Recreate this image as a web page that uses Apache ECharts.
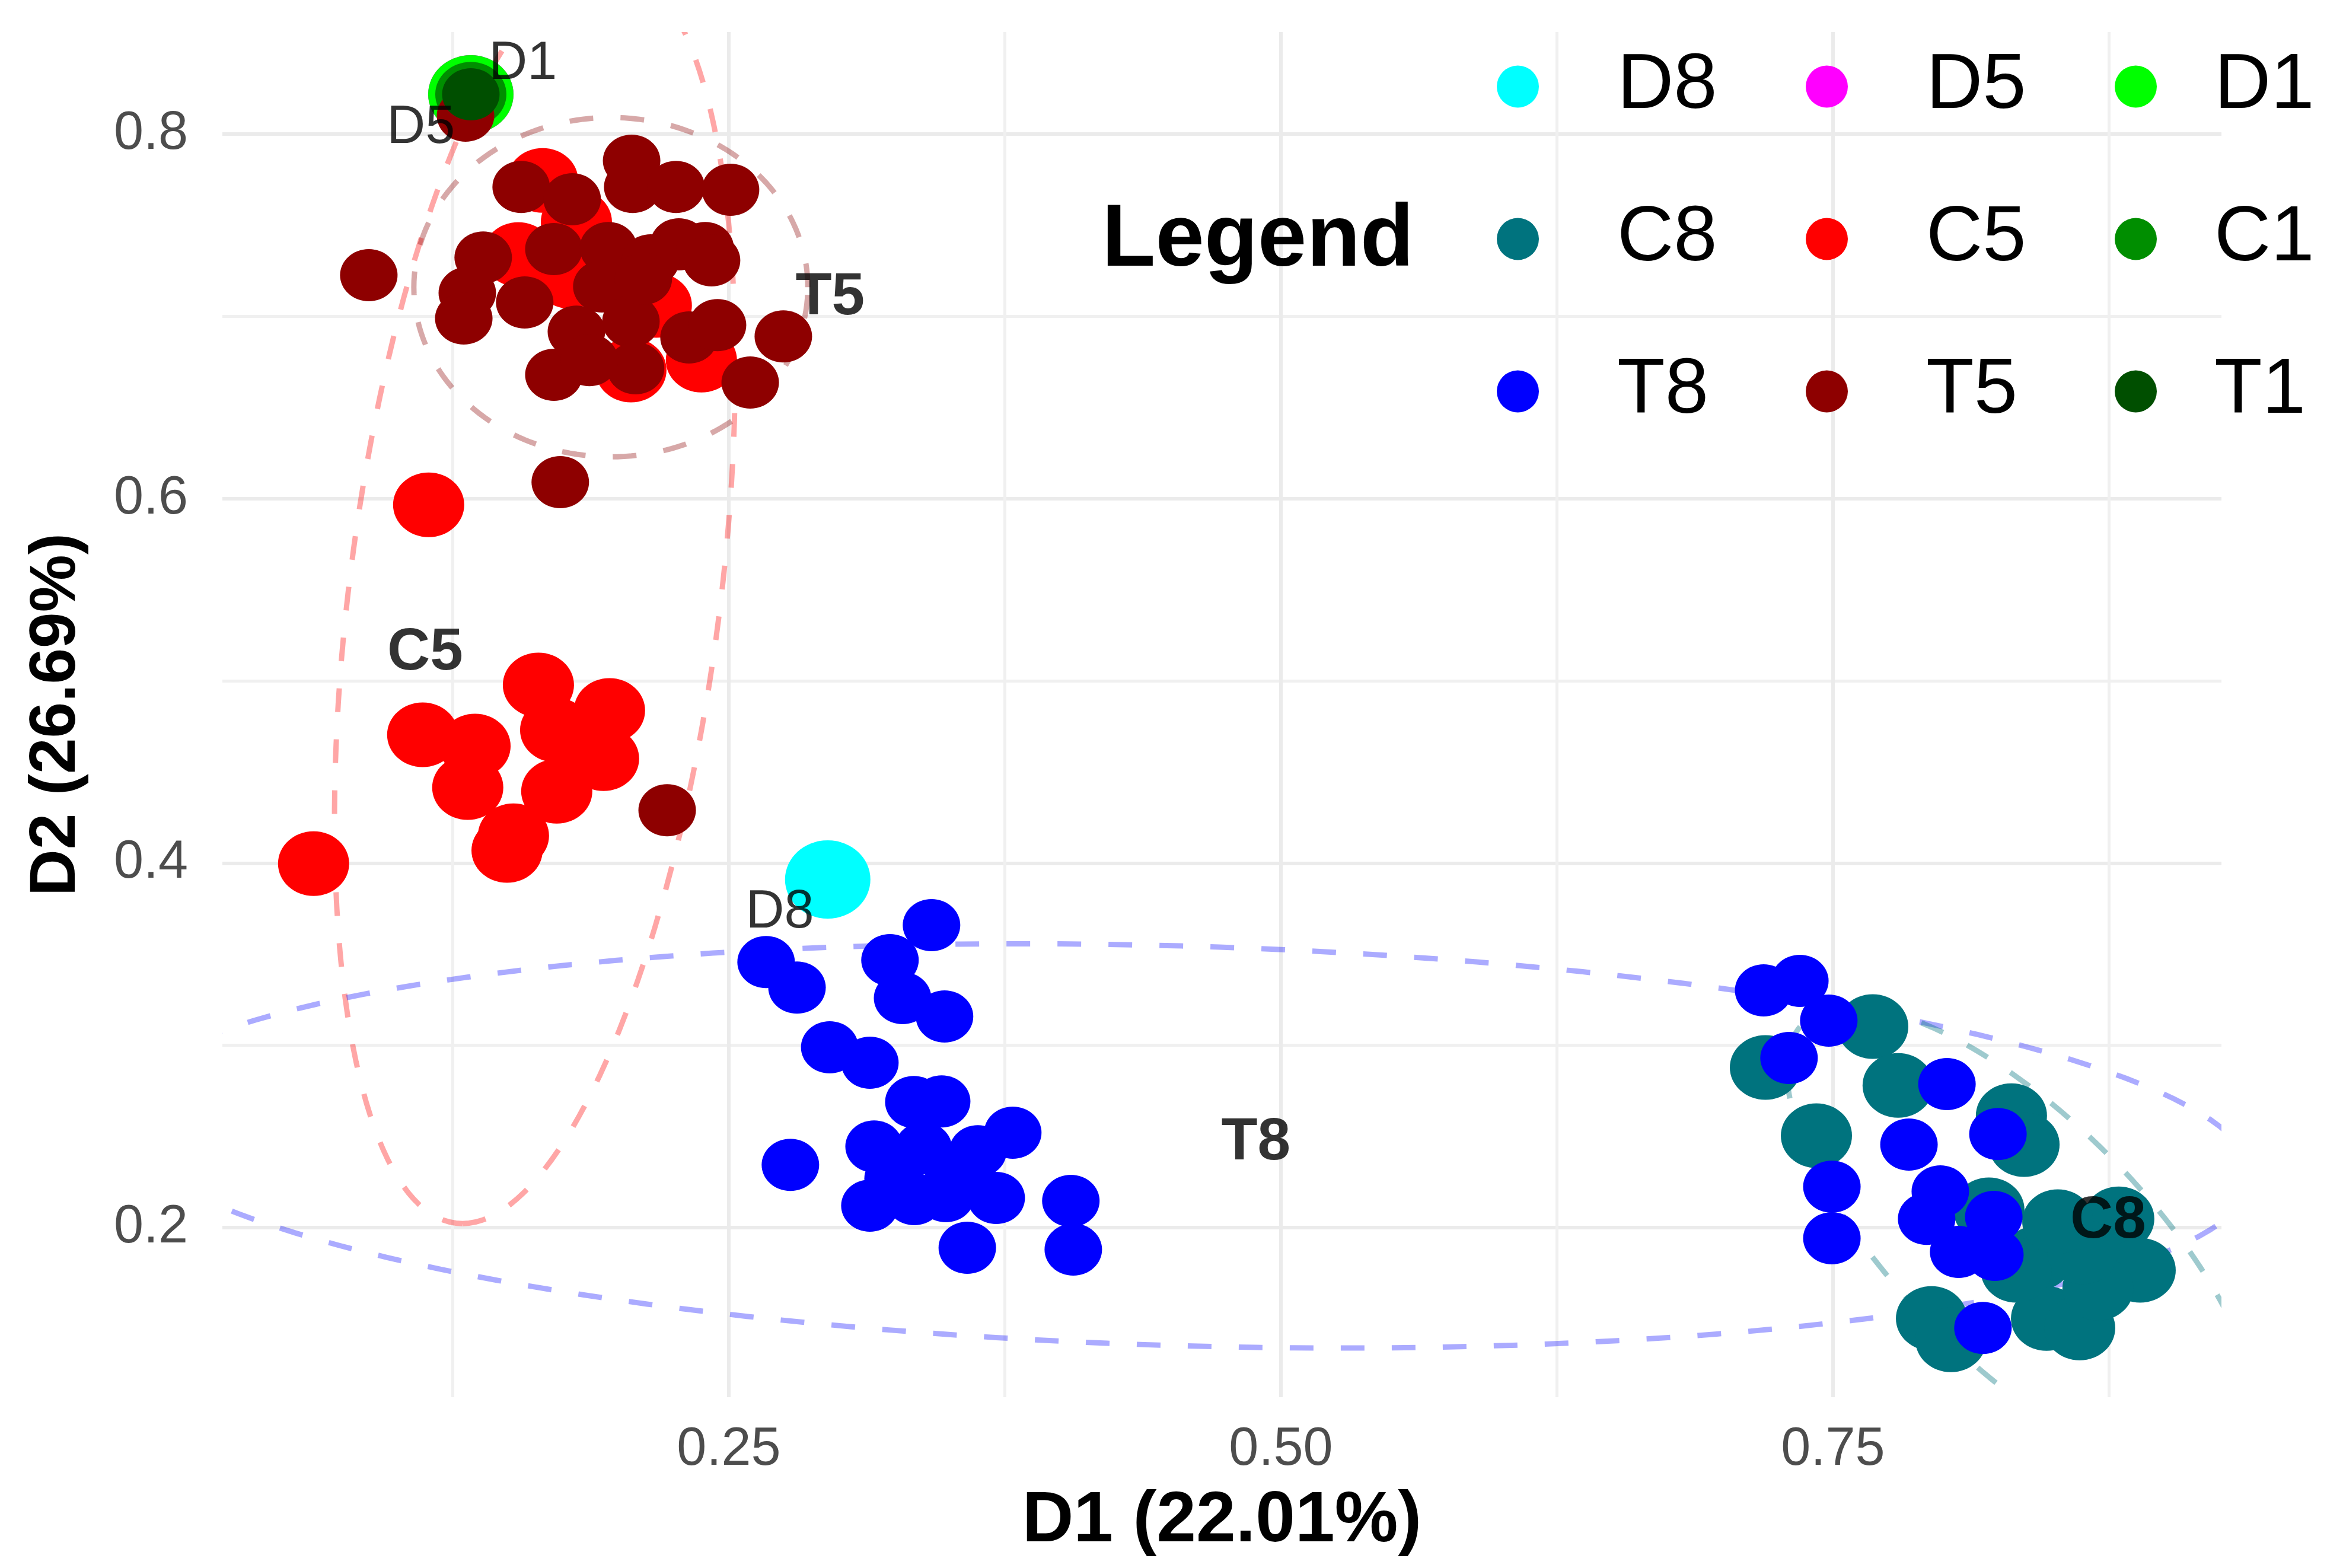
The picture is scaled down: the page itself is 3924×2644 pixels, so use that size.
<!DOCTYPE html>
<html><head><meta charset="utf-8">
<script src="https://cdn.jsdelivr.net/npm/echarts@6/dist/echarts.min.js"></script>
<style>html,body{margin:0;padding:0;background:#fff}#chart{width:3924px;height:2644px}</style>
</head><body><div id="chart"></div>
<script>
// ---------------- data ----------------
const groupNames = ['D8', 'D5', 'D1', 'C8', 'C5', 'C1', 'T8', 'T5', 'T1'];
const legendColumns = [['D8', 'C8', 'T8'], ['D5', 'C5', 'T5'], ['D1', 'C1', 'T1']];

const D8 = [[0.2948, 0.3910]];
const D5 = [[0.1332, 0.8218]];
const D1 = [[0.1332, 0.8218]];
const C1 = [[0.1332, 0.8218]];
const T1 = [[0.1332, 0.8218]];

const C8 = [
  [0.7194, 0.2878], [0.7680, 0.3103], [0.7795, 0.2780], [0.7425, 0.2504], [0.8308, 0.2614],
  [0.8365, 0.2455], [0.8206, 0.2097], [0.8426, 0.1833], [0.8794, 0.2048], [0.8891, 0.1765],
  [0.8467, 0.1501], [0.8617, 0.1449], [0.8700, 0.1667], [0.7946, 0.1501], [0.8034, 0.1384],
  [0.8330, 0.1765], [0.8631, 0.1866], [0.8518, 0.2032]
];
const C5 = [
  [0.1657, 0.7746], [0.1810, 0.7518], [0.1547, 0.7339], [0.1780, 0.7219], [0.2172, 0.7060],
  [0.2057, 0.6705], [0.2376, 0.6760], [0.1141, 0.5966], [0.0620, 0.3997], [0.1114, 0.4704],
  [0.1351, 0.4642], [0.1318, 0.4414], [0.1638, 0.4977], [0.1525, 0.4150], [0.1496, 0.4069],
  [0.1716, 0.4730], [0.1960, 0.4837], [0.1933, 0.4573], [0.1721, 0.4394], [0.1818, 0.4668]
];
const T8 = [
  [0.2669, 0.3457], [0.2809, 0.3317], [0.3230, 0.3467], [0.3418, 0.3659], [0.3287, 0.3259],
  [0.3477, 0.3158], [0.2957, 0.2989], [0.3139, 0.2904], [0.3338, 0.2689], [0.3464, 0.2692],
  [0.3786, 0.2520], [0.3158, 0.2445], [0.2779, 0.2344], [0.3381, 0.2435], [0.3628, 0.2419],
  [0.3244, 0.2269], [0.3139, 0.2120], [0.3340, 0.2156], [0.3483, 0.2172], [0.3711, 0.2162],
  [0.3580, 0.1889], [0.4049, 0.2146], [0.4060, 0.1879], [0.3518, 0.2302],
  [0.7186, 0.3301], [0.7350, 0.3353], [0.7481, 0.3135], [0.7301, 0.2930], [0.8016, 0.2787],
  [0.7844, 0.2455], [0.8247, 0.2513], [0.7495, 0.2224], [0.7495, 0.1941], [0.7986, 0.2198],
  [0.7924, 0.2048], [0.8228, 0.2058], [0.8069, 0.1866], [0.8233, 0.1850], [0.8179, 0.1449]
];
const T5 = [
  [0.0870, 0.7226], [0.1560, 0.7710], [0.1791, 0.7642], [0.2060, 0.7854], [0.2065, 0.7710],
  [0.2261, 0.7710], [0.2508, 0.7694], [0.1388, 0.7323], [0.1708, 0.7369], [0.1955, 0.7375],
  [0.2274, 0.7395], [0.2393, 0.7375], [0.2422, 0.7307], [0.2146, 0.7307], [0.1316, 0.7128],
  [0.1576, 0.7076], [0.1300, 0.6988], [0.1925, 0.7164], [0.1810, 0.6916], [0.2057, 0.6972],
  [0.2320, 0.6884], [0.2449, 0.6952], [0.1708, 0.6679], [0.2078, 0.6715], [0.2597, 0.6637],
  [0.2747, 0.6890], [0.1737, 0.6090], [0.1869, 0.6760], [0.2221, 0.4290], [0.1308, 0.8101],
  [0.2113, 0.7206]
];
const groupPoints = { D8, D5, D1, C8, C5, C1, T8, T5, T1 };

// confidence ellipses: centre (cx, cy) and two conjugate semi-axes u, v
const ellipseGroups = ['C5', 'T5', 'T8', 'C8'];
const ellipseParams = [
  [0.1622, 0.5481, -0.0328, -0.3459, 0.0846, 0.0],
  [0.1966, 0.7160, 0.0892, 0.0, 0.0, 0.0931],
  [0.4552, 0.2448, 0.4844, -0.01643, 0.0, 0.1097],
  [0.8354, 0.1924, 0.0988, -0.1198, 0.0392, 0.0475]
];

// text labels placed on the chart
const groupLabelNames = ['T5', 'C5', 'T8', 'C8'];
const groupLabelPos = [[0.2959, 0.7102], [0.1125, 0.5153], [0.4887, 0.2465], [0.8746, 0.2035]];
const pointLabelNames = ['D1', 'D5', 'D8'];
const pointLabelPos = [[0.1568, 0.8384], [0.1106, 0.8033], [0.2731, 0.3727]];

// axes
const xRange = [0.0207, 0.9259];
const yRange = [0.1069, 0.8560];
const xMajorTicks = [0.25, 0.5, 0.75];
const xMinorTicks = [0.125, 0.375, 0.625, 0.875];
const yMajorTicks = [0.2, 0.4, 0.6, 0.8];
const yMinorTicks = [0.3, 0.5, 0.7];
const xTitle = 'D1 (22.01%)';
const yTitle = 'D2 (26.69%)';
const legendTitle = 'Legend';

// ---------------- styles ----------------
const FONT = 'Liberation Sans, Arial, sans-serif';
const groupColors = {
  D8: '#00FFFF', D5: '#FF00FF', D1: '#00FF00',
  C8: '#00737E', C5: '#FF0000', C1: '#008E00',
  T8: '#0000FF', T5: '#8E0000', T1: '#004F00'
};
const groupSizes = { D: [144, 132], C: [120, 109], T: [97, 88] };
const ellipseColors = {
  C5: 'rgba(255,0,0,0.35)', T5: 'rgba(139,0,0,0.34)',
  T8: 'rgba(0,0,255,0.33)', C8: 'rgba(0,115,126,0.38)'
};
const ELLIPSE_SYMBOL = 'path://M0,50C0,22.4,22.4,0,50,0C77.6,0,100,22.4,100,50C100,77.6,77.6,100,50,100C22.4,100,0,77.6,0,50Z';

const chart = echarts.init(document.getElementById('chart'), null, { renderer: 'canvas' });

const pointSeries = groupNames.map(function (g) {
  return {
    type: 'scatter',
    name: g,
    data: groupPoints[g],
    symbol: ELLIPSE_SYMBOL,
    symbolSize: groupSizes[g[0]],
    itemStyle: { color: groupColors[g], opacity: 1 },
    emphasis: { disabled: true },
    silent: true
  };
});

const ellipseSeries = {
  type: 'custom',
  name: 'ellipses',
  clip: true,
  silent: true,
  data: ellipseParams,
  renderItem: function (params, api) {
    const cx = api.value(0), cy = api.value(1);
    const ux = api.value(2), uy = api.value(3), vx = api.value(4), vy = api.value(5);
    const pts = [];
    for (let i = 0; i <= 360; i += 2) {
      const t = i * Math.PI / 180;
      pts.push(api.coord([cx + ux * Math.cos(t) + vx * Math.sin(t), cy + uy * Math.cos(t) + vy * Math.sin(t)]));
    }
    return {
      type: 'polyline',
      shape: { points: pts },
      style: { stroke: ellipseColors[ellipseGroups[params.dataIndex]], fill: null, lineWidth: 9, lineDash: [40, 46] }
    };
  }
};

function labelSeries(names, pos, bold, size) {
  return {
    type: 'scatter',
    name: bold ? 'groupLabels' : 'pointLabels',
    silent: true,
    symbolSize: 1,
    itemStyle: { color: 'rgba(0,0,0,0)' },
    emphasis: { disabled: true },
    data: pos.map(function (p, i) { return { name: names[i], value: p }; }),
    label: {
      show: true, position: 'inside', formatter: '{b}',
      color: '#000000', fontFamily: FONT, fontSize: size,
      fontWeight: bold ? 'bold' : 'normal'
    },
    z: 10
  };
}

const legendLefts = [2524, 3045, 3566];
const legendTextPad = [125, 125, 90];
const legends = legendColumns.map(function (col, i) {
  return {
    orient: 'vertical',
    left: legendLefts[i],
    top: 80,
    padding: 0,
    itemWidth: 75,
    itemHeight: 71,
    itemGap: 125,
    icon: 'circle',
    selectedMode: false,
    data: col,
    textStyle: { fontFamily: FONT, fontSize: 132, color: '#000000', padding: [0, 0, 0, legendTextPad[i]] }
  };
});

const axisLabelStyle = { fontFamily: FONT, fontSize: 90, color: '#4D4D4D' };

chart.setOption({
  animation: false,
  backgroundColor: '#ffffff',
  title: {
    text: legendTitle, left: 1858, top: 333, padding: 0,
    textStyle: { fontFamily: FONT, fontSize: 148, fontWeight: 'bold', color: '#000000', lineHeight: 148 }
  },
  legend: legends,
  grid: { left: 375, right: 178, top: 54, bottom: 288, containLabel: false, outerBoundsMode: 'none' },
  xAxis: [
    {
      type: 'value', min: xRange[0], max: xRange[1], position: 'bottom',
      axisLine: { show: false },
      axisTick: { show: false, customValues: xMajorTicks },
      axisLabel: Object.assign({ customValues: xMajorTicks, margin: 44, formatter: function (v) { return v.toFixed(2); } }, axisLabelStyle),
      splitLine: { show: true, lineStyle: { color: '#EBEBEB', width: 6 } },
      name: xTitle, nameLocation: 'middle', nameGap: 150,
      nameTextStyle: { fontFamily: FONT, fontSize: 120, fontWeight: 'bold', color: '#000000' }
    },
    {
      type: 'value', min: xRange[0], max: xRange[1], position: 'top',
      axisLine: { show: false },
      axisTick: { show: false, customValues: xMinorTicks },
      axisLabel: { show: false, customValues: xMinorTicks },
      splitLine: { show: true, lineStyle: { color: '#F0F0F0', width: 5 } }
    }
  ],
  yAxis: [
    {
      type: 'value', min: yRange[0], max: yRange[1], position: 'left',
      axisLine: { show: false },
      axisTick: { show: false, customValues: yMajorTicks },
      axisLabel: Object.assign({ customValues: yMajorTicks, margin: 58, formatter: function (v) { return v.toFixed(1); } }, axisLabelStyle),
      splitLine: { show: true, lineStyle: { color: '#EBEBEB', width: 6 } },
      name: yTitle, nameLocation: 'middle', nameGap: 225,
      nameTextStyle: { fontFamily: FONT, fontSize: 109, fontWeight: 'bold', color: '#000000' }
    },
    {
      type: 'value', min: yRange[0], max: yRange[1], position: 'right',
      axisLine: { show: false },
      axisTick: { show: false, customValues: yMinorTicks },
      axisLabel: { show: false, customValues: yMinorTicks },
      splitLine: { show: true, lineStyle: { color: '#F0F0F0', width: 5 } }
    }
  ],
  series: pointSeries.concat([
    ellipseSeries,
    labelSeries(pointLabelNames, pointLabelPos, false, 90),
    labelSeries(groupLabelNames, groupLabelPos, true, 100)
  ])
});
</script>
</body></html>
